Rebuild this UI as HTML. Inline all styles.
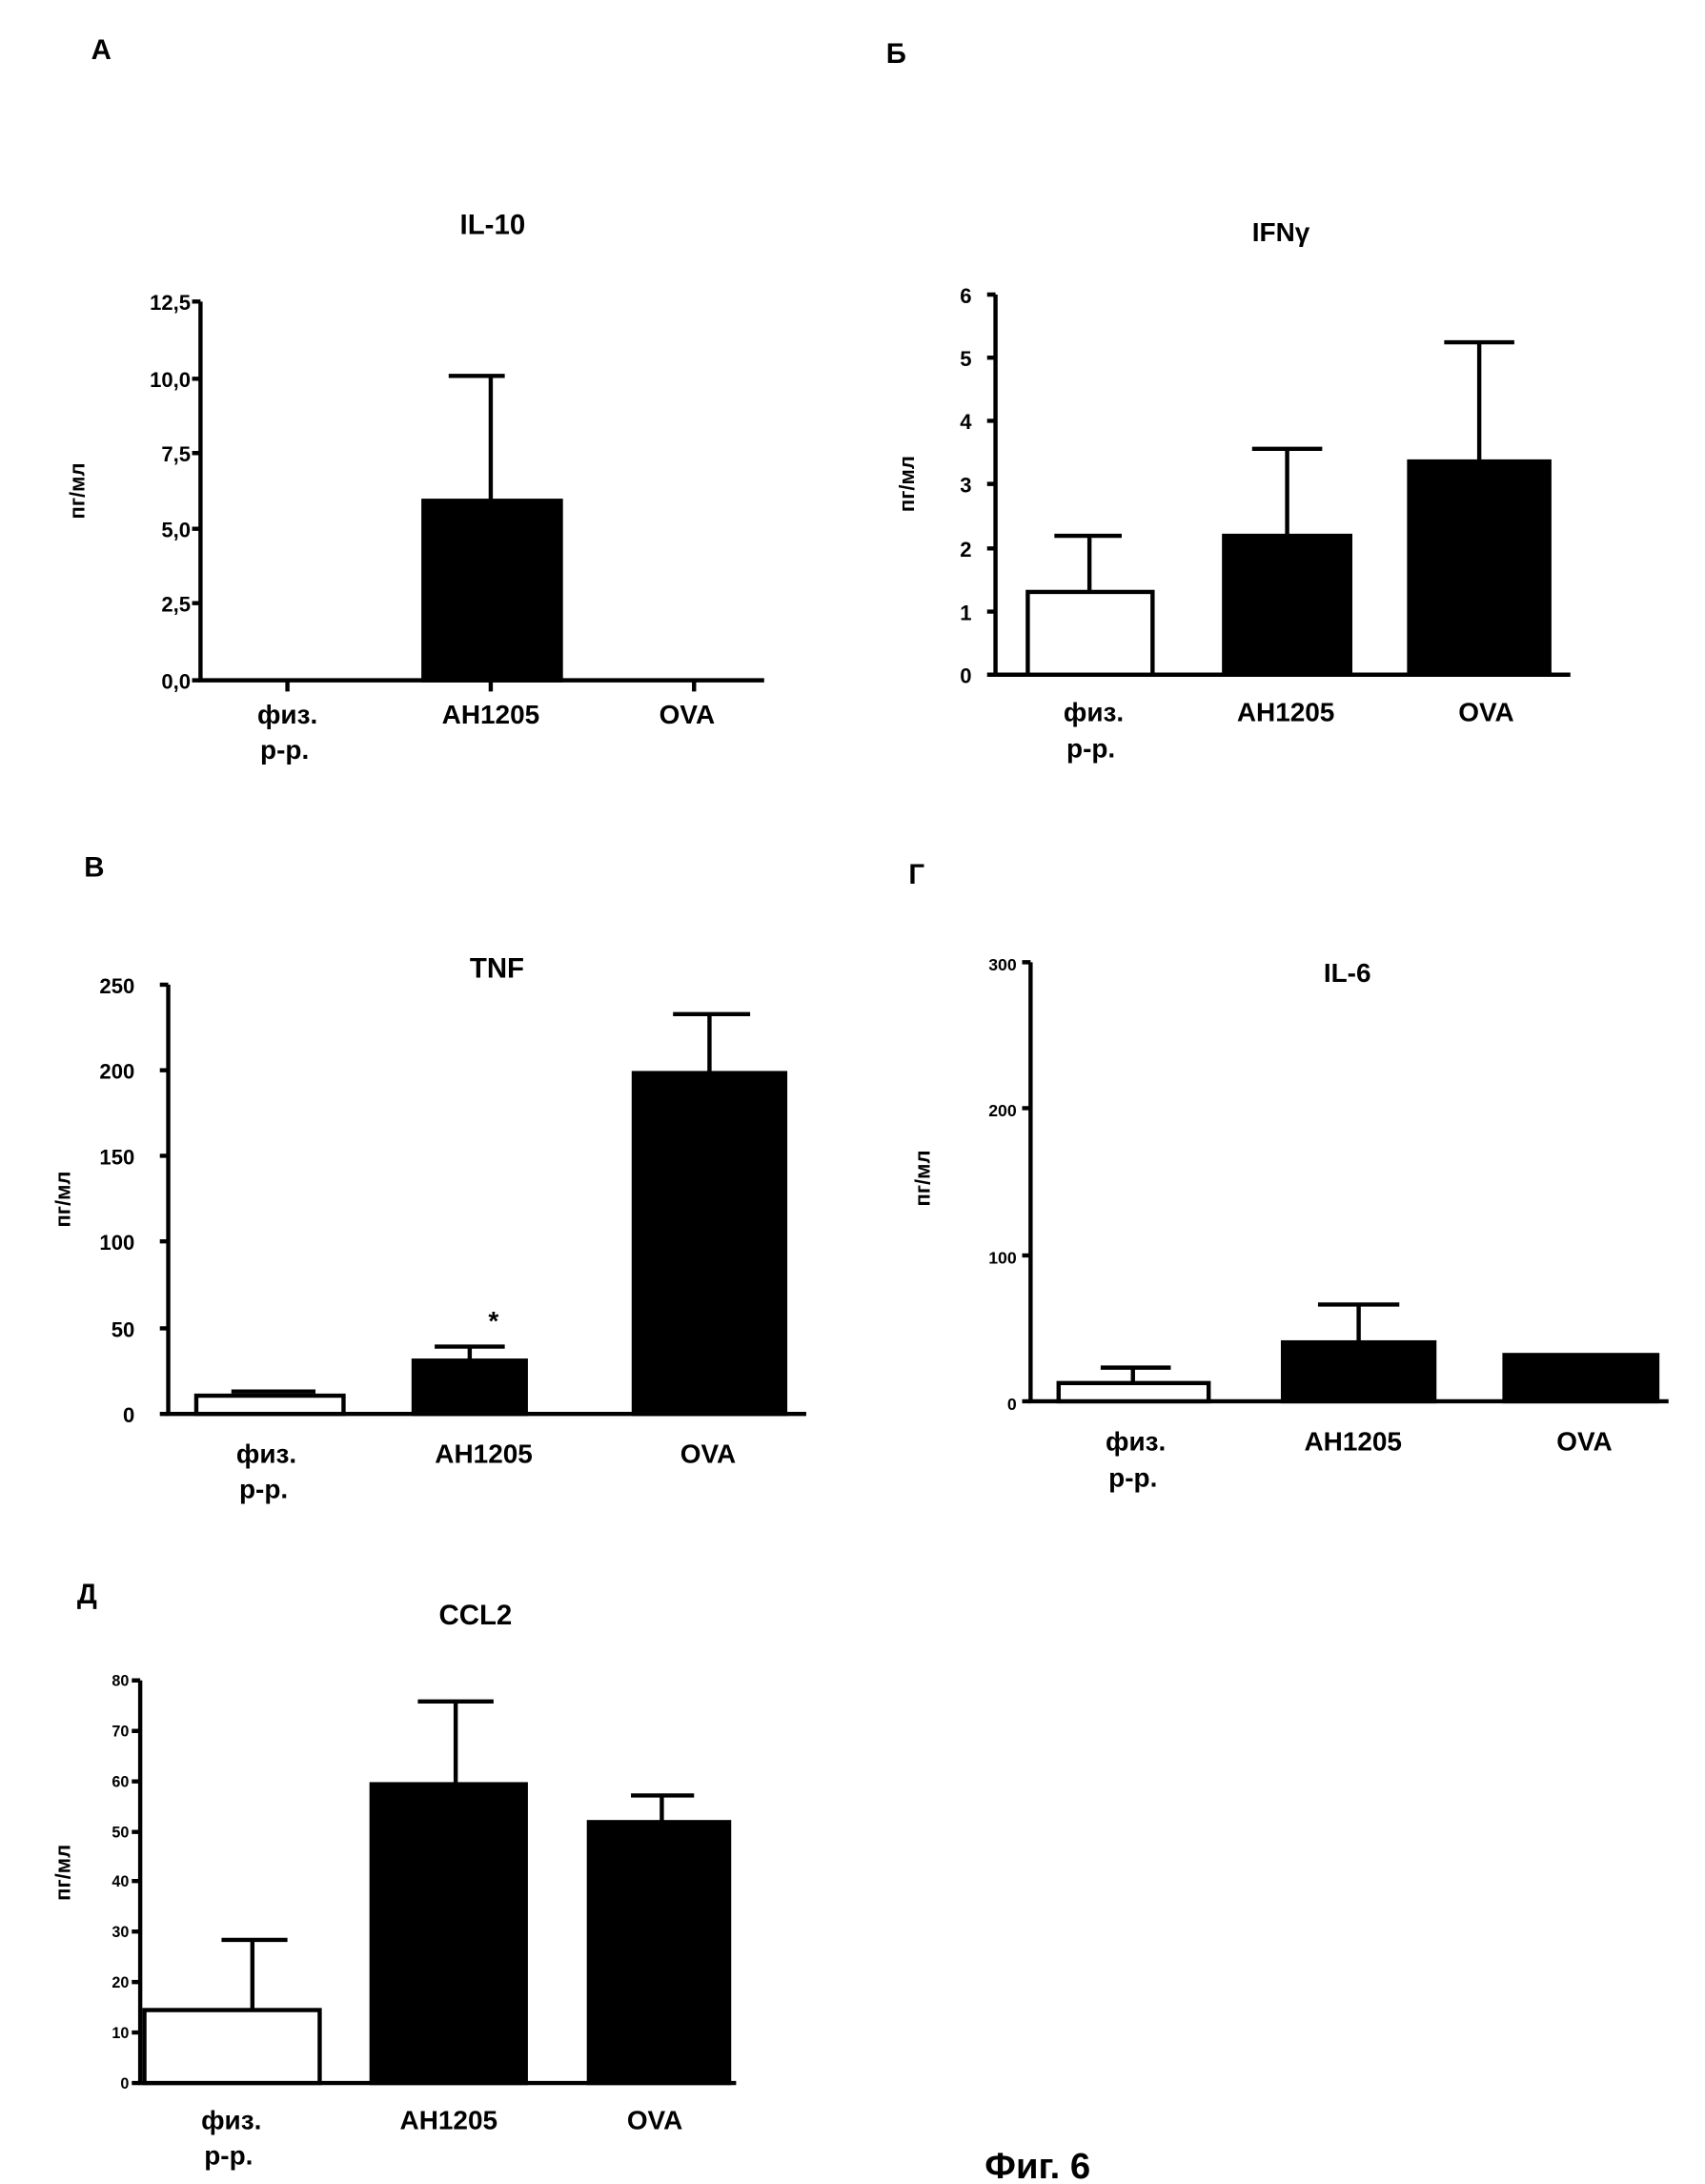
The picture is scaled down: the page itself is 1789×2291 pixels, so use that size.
<!DOCTYPE html>
<html><head><meta charset="utf-8"><style>
html,body{margin:0;padding:0;background:#fff;}
svg{display:block;}
text{font-family:"Liberation Sans",sans-serif;font-weight:bold;fill:#000;}
.t{font-size:15px;}
.c{font-size:19px;}
.h{font-size:20px;}
.y{font-size:15px;}
</style></head><body>
<svg width="1789" height="2291" viewBox="0 0 1216 1557" preserveAspectRatio="none" xmlns="http://www.w3.org/2000/svg">
<g stroke="#000" stroke-width="3" fill="none">
<!-- A -->
<path d="M143 215 V485 H545"/>
<path d="M137 215h6M137 270h6M137 323h6M137 377h6M137 430h6M137 485h6"/>
<path d="M205 485v8M350 485v8M495 485v8"/>
<rect x="302" y="357" width="98" height="128" fill="#000"/>
<path d="M350 357V268M320 268h40"/>
<!-- Б -->
<path d="M710 210 V481 H1120"/>
<path d="M704 210h6M704 255h6M704 300h6M704 345h6M704 391h6M704 436h6M704 481h6"/>
<rect x="733" y="422" width="89" height="59" fill="#fff"/>
<path d="M777 422V382M752 382h48"/>
<rect x="873" y="382" width="90" height="99" fill="#000"/>
<path d="M918 382V320M893 320h50"/>
<rect x="1005" y="329" width="100" height="152" fill="#000"/>
<path d="M1055 329V244M1030 244h50"/>
<!-- В -->
<path d="M120 702 V1008 H575"/>
<path d="M114 702h6M114 763h6M114 824h6M114 885h6M114 947h6M114 1008h6"/>
<rect x="140" y="995" width="105" height="13" fill="#fff"/>
<path d="M165 992h60"/>
<rect x="295" y="970" width="80" height="38" fill="#000"/>
<path d="M335 970V960M310 960h50"/>
<rect x="452" y="765" width="108" height="243" fill="#000"/>
<path d="M506 765V723M480 723h55"/>
<!-- Г -->
<path d="M735 686 V999 H1190"/>
<path d="M729 686h6M729 790h6M729 895h6M729 999h6"/>
<rect x="755" y="986" width="107" height="13" fill="#fff"/>
<path d="M808 986V975M785 975h50"/>
<rect x="915" y="957" width="108" height="42" fill="#000"/>
<path d="M969 957V930M940 930h58"/>
<rect x="1073" y="966" width="109" height="33" fill="#000"/>
<!-- Д -->
<path d="M100 1198 V1485 H525"/>
<path d="M94 1198h6M94 1234h6M94 1270h6M94 1306h6M94 1341h6M94 1377h6M94 1413h6M94 1449h6M94 1485h6"/>
<rect x="103" y="1433" width="125" height="52" fill="#fff"/>
<path d="M180 1433V1383M158 1383h47"/>
<rect x="265" y="1272" width="110" height="213" fill="#000"/>
<path d="M325 1272V1213M298 1213h54"/>
<rect x="420" y="1299" width="100" height="186" fill="#000"/>
<path d="M472 1299V1280M450 1280h45"/>
</g>
<!-- labels -->
<text x="65" y="42" class="h" font-size="22">А</text>
<text x="632" y="45" class="h" font-size="22">Б</text>
<text x="60" y="625" class="h" font-size="22">В</text>
<text x="648" y="630" class="h" font-size="22">Г</text>
<text x="55" y="1143" class="h" font-size="22">Д</text>
<text x="328" y="167" class="h">IL-10</text>
<text x="893" y="172" class="c">IFNγ</text>
<text x="335" y="697" class="h">TNF</text>
<text x="944" y="700" class="c">IL-6</text>
<text x="313" y="1158" class="h">CCL2</text>
<g class="t" text-anchor="end">
<text x="136" y="221">12,5</text><text x="136" y="276">10,0</text><text x="136" y="329">7,5</text><text x="136" y="383">5,0</text><text x="136" y="436">2,5</text><text x="136" y="491">0,0</text>
<text x="693" y="216">6</text><text x="693" y="261">5</text><text x="693" y="306">4</text><text x="693" y="351">3</text><text x="693" y="397">2</text><text x="693" y="442">1</text><text x="693" y="487">0</text>
<text x="96" y="708">250</text><text x="96" y="769">200</text><text x="96" y="830">150</text><text x="96" y="891">100</text><text x="96" y="953">50</text><text x="96" y="1014">0</text>
<text x="725" y="692" font-size="12">300</text><text x="725" y="796" font-size="12">200</text><text x="725" y="901" font-size="12">100</text><text x="725" y="1005" font-size="12">0</text>
<g font-size="11"><text x="92" y="1202">80</text><text x="92" y="1238">70</text><text x="92" y="1274">60</text><text x="92" y="1310">50</text><text x="92" y="1345">40</text><text x="92" y="1381">30</text><text x="92" y="1417">20</text><text x="92" y="1453">10</text><text x="92" y="1489">0</text></g>
</g>
<g class="y" text-anchor="middle">
<text transform="translate(60 350) rotate(-90)">пг/мл</text>
<text transform="translate(652 345) rotate(-90)">пг/мл</text>
<text transform="translate(50 855) rotate(-90)">пг/мл</text>
<text transform="translate(663 840) rotate(-90)">пг/мл</text>
<text transform="translate(50 1335) rotate(-90)">пг/мл</text>
</g>
<g class="c" text-anchor="middle">
<text x="205" y="516">физ.</text><text x="203" y="541">р-р.</text><text x="350" y="516">АН1205</text><text x="490" y="516">OVA</text>
<text x="780" y="514">физ.</text><text x="778" y="540">р-р.</text><text x="917" y="514">АН1205</text><text x="1060" y="514">OVA</text>
<text x="190" y="1043">физ.</text><text x="188" y="1068">р-р.</text><text x="345" y="1043">АН1205</text><text x="505" y="1043">OVA</text>
<text x="810" y="1034">физ.</text><text x="808" y="1060">р-р.</text><text x="965" y="1034">АН1205</text><text x="1130" y="1034">OVA</text>
<text x="165" y="1518">физ.</text><text x="163" y="1543">р-р.</text><text x="320" y="1518">АН1205</text><text x="467" y="1518">OVA</text>
<text x="352" y="948">*</text>
<text x="740" y="1553" font-size="26">Фиг. 6</text>
</g>
</svg>
</body></html>
